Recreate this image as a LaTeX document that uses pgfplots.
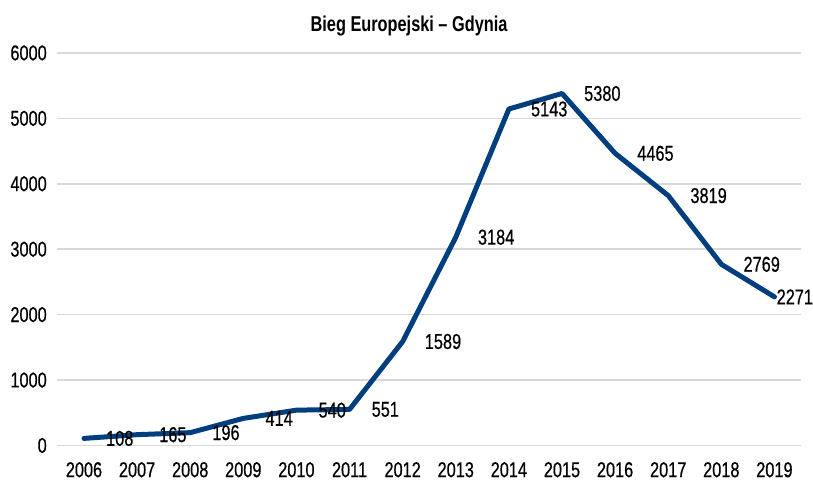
\documentclass[border=0pt]{standalone}
\usepackage{pgfplots}
\pgfplotsset{compat=1.18}
\usepackage{pgfplotstable}
\usepackage{fontspec}
\setmainfont{Liberation Sans}[FakeStretch=0.76, UprightFeatures={FakeBold=0.5}]
\definecolor{lineblue}{RGB}{0,62,126}
\definecolor{gridgray}{RGB}{217,217,217}
\pgfplotstableread{
year value
2006 108
2007 165
2008 196
2009 414
2010 540
2011 551
2012 1589
2013 3184
2014 5143
2015 5380
2016 4465
2017 3819
2018 2769
2019 2271
}\datatable
\newcommand{\lblfont}{\fontsize{21.5}{24}\selectfont}
\begin{document}
\begin{tikzpicture}
\begin{axis}[
  scale only axis,
  width=744.5pt, height=393pt,
  xmin=2005.5, xmax=2019.5,
  ymin=0, ymax=6000,
  xtick={2006,2007,...,2019},
  ytick={0,1000,...,6000},
  axis line style={draw=none},
  ymajorgrids,
  grid style={gridgray, line width=1.5pt},
  major tick length=0pt,
  tick style={draw=none},
  /pgf/number format/1000 sep={},
  /pgf/number format/assume math mode=true,
  tick label style={font=\lblfont},
  xticklabel style={anchor=north, inner sep=0pt, yshift=-16.5pt},
  yticklabel style={anchor=east, inner sep=0pt, xshift=-10.5pt},
  clip=false,
]
\addplot[lineblue, line width=5pt, line join=round, line cap=round] table[x=year, y=value] {\datatable};
\addplot[draw=none, mark=none, restrict x to domain=2006:2018,
  nodes near coords, point meta=explicit,
  nodes near coords style={anchor=west, inner sep=0pt, xshift=22pt, font=\lblfont, text=black}]
  table[x=year, y=value, meta=value] {\datatable};
\addplot[draw=none, mark=none, restrict x to domain=2019:2019,
  nodes near coords, point meta=explicit,
  nodes near coords style={anchor=west, inner sep=0pt, xshift=2pt, font=\lblfont, text=black}]
  table[x=year, y=value, meta=value] {\datatable};
\path (rel axis cs:0,1) ++(352pt,21.5pt) node[anchor=base, inner sep=0pt, font=\bfseries\lblfont] {Bieg Europejski – Gdynia};
\end{axis}
\path (current axis.south west) ++(-57.5pt,-35pt) coordinate (A);
\path (current axis.north east) ++(11pt,53pt) coordinate (B);
\path (A) rectangle (B);
\end{tikzpicture}
\end{document}
